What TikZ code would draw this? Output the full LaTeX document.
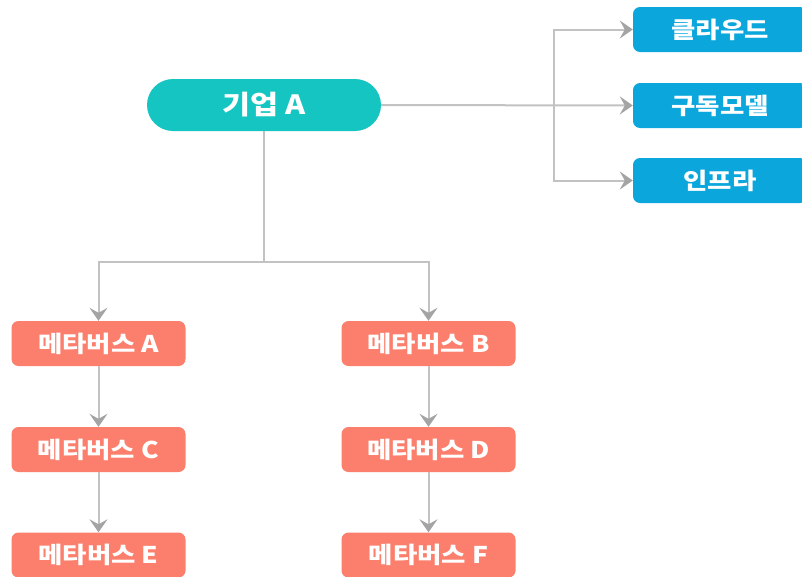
\documentclass[tikz,border=0pt]{standalone}
\usepackage{fontspec}
\newfontfamily\kr{Noto Sans CJK KR}
\usetikzlibrary{shapes.misc,arrows.meta}
\definecolor{teal1}{HTML}{14C5C1}
\definecolor{blue1}{HTML}{0AA6DC}
\definecolor{salmon}{HTML}{FB7F6C}
\definecolor{lnc}{HTML}{C2C2C2}
\definecolor{arc}{HTML}{A4A4A4}
\tikzset{
  txt/.style={text=white,font=\kr\bfseries},
  bluebox/.style={txt,fill=blue1,rounded corners=7pt,minimum width=174pt,minimum height=45pt,inner sep=0pt},
  salbox/.style={txt,fill=salmon,rounded corners=7pt,minimum width=174pt,minimum height=45pt,inner sep=0pt},
  topbox/.style={txt,fill=teal1,rounded rectangle,minimum width=234pt,minimum height=52pt,inner sep=0pt},
  conn/.style={draw=lnc,line width=2pt,-{Stealth[length=13pt,width=18pt,inset=5pt,color=arc]}},
  plain/.style={draw=lnc,line width=2pt},
}
\newcommand{\wt}[2]{\fontsize{#1}{#1}\selectfont\scalebox{1.15}[1]{#2}}
\begin{document}
\begin{tikzpicture}[x=1pt,y=-1pt]
\useasboundingbox (0,0) rectangle (802,576);
\node[topbox] (ka) at (264,105) {\wt{26.5}{기업 A}};
\node[bluebox] (cl) at (720,29.5) {\wt{23}{클라우드}};
\node[bluebox] (sub) at (720,105.5) {\wt{23}{구독모델}};
\node[bluebox] (inf) at (720,180.5) {\wt{23}{인프라}};
\node[salbox] (ma) at (98.5,343.5) {\wt{23}{메타버스 A}};
\node[salbox] (mb) at (428.5,343.5) {\wt{23}{메타버스 B}};
\node[salbox] (mc) at (98.5,449.5) {\wt{23}{메타버스 C}};
\node[salbox] (md) at (428.5,449.5) {\wt{23}{메타버스 D}};
\node[salbox] (me) at (98.5,555) {\wt{23}{메타버스 E}};
\node[salbox] (mf) at (428.5,555) {\wt{23}{메타버스 F}};
\coordinate (j) at (554,105.5);
\coordinate (d) at (264,262);
\draw[conn] (ka.east) -- (sub.west);
\draw[conn] (j) |- (cl.west);
\draw[conn] (j) |- (inf.west);
\draw[plain] (ka.south) -- (d);
\draw[conn] (d) -| (ma.north);
\draw[conn] (d) -| (mb.north);
\draw[conn] (ma) -- (mc);
\draw[conn] (mc) -- (me);
\draw[conn] (mb) -- (md);
\draw[conn] (md) -- (mf);
\end{tikzpicture}
\end{document}
